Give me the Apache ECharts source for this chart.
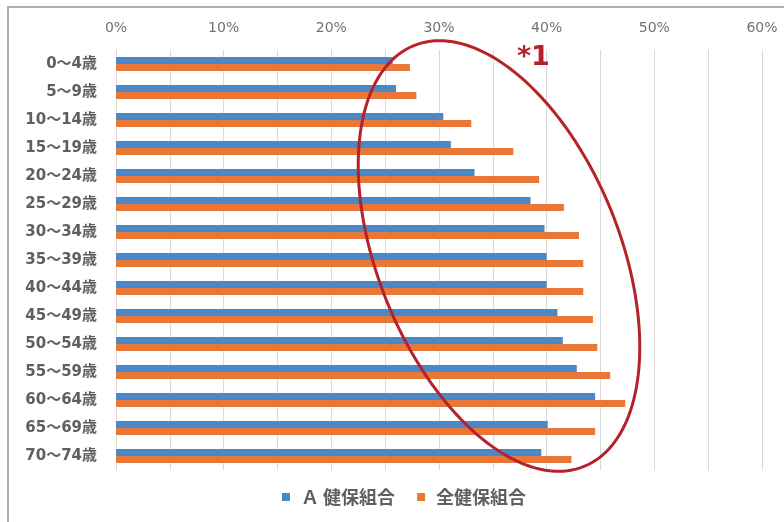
<!DOCTYPE html>
<html><head><meta charset="utf-8">
<script src="https://cdn.jsdelivr.net/npm/echarts@6/dist/echarts.min.js"></script>
<style>html,body{margin:0;padding:0;background:#fff}#c{width:784px;height:522px}</style>
</head><body><div id="c"></div>
<script>
const categories = ['0〜4歳','5〜9歳','10〜14歳','15〜19歳','20〜24歳','25〜29歳','30〜34歳','35〜39歳','40〜44歳','45〜49歳','50〜54歳','55〜59歳','60〜64歳','65〜69歳','70〜74歳'];
const seriesA = [25.7, 26.0, 30.4, 31.1, 33.3, 38.5, 39.8, 40.0, 40.0, 41.0, 41.5, 42.8, 44.5, 40.1, 39.5];
const seriesAll = [27.3, 27.9, 33.0, 36.9, 39.3, 41.6, 43.0, 43.4, 43.4, 44.3, 44.7, 45.9, 47.3, 44.5, 42.3];
const seriesNames = ['Ａ 健保組合', '全健保組合'];

// ellipse annotation outline
function ellipsePts(cx, cy, a, b, thDeg) {
  const th = thDeg * Math.PI / 180, pts = [];
  for (let i = 0; i < 180; i++) {
    const t = i / 180 * 2 * Math.PI;
    const u = b * Math.cos(t), v = a * Math.sin(t);
    pts.push([cx + v * Math.sin(th) + u * Math.cos(th), cy + v * Math.cos(th) - u * Math.sin(th)]);
  }
  return pts;
}

const chart = echarts.init(document.getElementById('c'));
const latin = '"DejaVu Sans", "Noto Sans CJK JP", sans-serif';
const cjk = '"Noto Sans CJK JP", "Noto Sans", sans-serif';
chart.setOption({
  animation: false,
  textStyle: { fontFamily: cjk },
  grid: { left: 116, right: 22, top: 50, bottom: 52, containLabel: false },
  xAxis: {
    type: 'value', position: 'top', min: 0, max: 60, interval: 5,
    axisLine: { show: false }, axisTick: { show: false },
    axisLabel: { color: '#727272', fontSize: 14, margin: 15, fontFamily: latin,
      formatter: v => (v % 10 === 0 ? v + '%' : '') },
    splitLine: { lineStyle: { color: '#d9d9d9', width: 1 } }
  },
  yAxis: {
    type: 'category', data: categories, inverse: true,
    axisLine: { show: false }, axisTick: { show: false },
    axisLabel: { color: '#5f5f5f', fontSize: 15, fontWeight: 'bold', margin: 19, fontFamily: latin }
  },
  legend: {
    bottom: 11, left: 277, itemWidth: 8, itemHeight: 8, itemGap: 22,
    icon: 'rect',
    textStyle: { color: '#5f5f5f', fontSize: 18, fontWeight: 'bold', padding: [0, 0, 0, 6] },
    data: seriesNames
  },
  series: [
    { name: seriesNames[0], type: 'bar', data: seriesA, barGap: '0%', barCategoryGap: '50%',
      itemStyle: { color: '#4a88c7' } },
    { name: seriesNames[1], type: 'bar', data: seriesAll, barGap: '0%', barCategoryGap: '50%',
      itemStyle: { color: '#e8773a' } }
  ],
  graphic: [
    { type: 'rect', shape: { x: 8, y: 7, width: 800, height: 540 },
      style: { fill: 'none', stroke: '#b0b0b0', lineWidth: 2 }, silent: true },
    { type: 'polygon', shape: { points: ellipsePts(499, 256, 227, 121, 22) },
      style: { fill: 'none', stroke: '#b5222a', lineWidth: 3 }, z: 100, silent: true },
    { type: 'text', x: 517, y: 44, z: 100,
      style: { text: '*1', fill: '#b5222a', font: 'bold 27px "DejaVu Sans", sans-serif' } }
  ]
});
</script></body></html>
